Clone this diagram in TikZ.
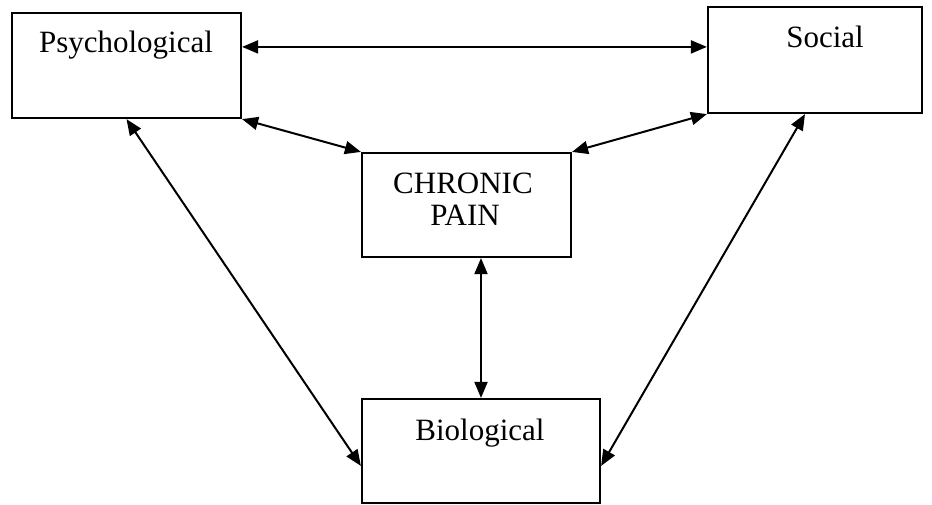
\documentclass[tikz,border=0pt]{standalone}
\usepackage{fontspec}
\setmainfont{Liberation Serif}
\usetikzlibrary{arrows.meta,calc}
\begin{document}
\begin{tikzpicture}[x=1pt,y=-1pt,
  box/.style={draw,line width=2.2pt,inner sep=0pt},
  lbl/.style={inner sep=0pt,anchor=base,font=\fontsize{31}{32}\selectfont},
  link/.style={line width=2pt,{Triangle[length=16pt,width=13pt]}-{Triangle[length=16pt,width=13pt]}}]
\useasboundingbox (0,0) rectangle (932,504);
% the four boxes
\node[box,minimum width=229pt,minimum height=105pt] (psy) at (126.5,65.5) {};
\node[box,minimum width=214pt,minimum height=106pt] (soc) at (815,60) {};
\node[box,minimum width=209pt,minimum height=104pt] (cp)  at (466.5,205) {};
\node[box,minimum width=238pt,minimum height=104pt] (bio) at (481,451) {};
% labels
\node[lbl] (psyt) at (126,52) {Psychological};
\node[lbl] (soct) at (825,47) {Social};
\node[lbl] (cpt1) at (463,193) {CHRONIC};
\node[lbl] (cpt2) at (465,225) {PAIN};
\node[lbl] (biot) at (480,440) {Biological};
% connectors
\draw[link] ([yshift=-35pt]psy.north east) -- ([yshift=-41pt]soc.north west);
\draw[link] (psy.south east) -- (cp.north west);
\draw[link] (soc.south west) -- (cp.north east);
\draw[link] (cp.south -| bio.north) -- (bio.north);
\draw[link] (psy.south) -- ([yshift=-68pt]bio.north west);
\draw[link] ([xshift=-10pt]soc.south) -- ([yshift=-68pt]bio.north east);
\end{tikzpicture}
\end{document}
